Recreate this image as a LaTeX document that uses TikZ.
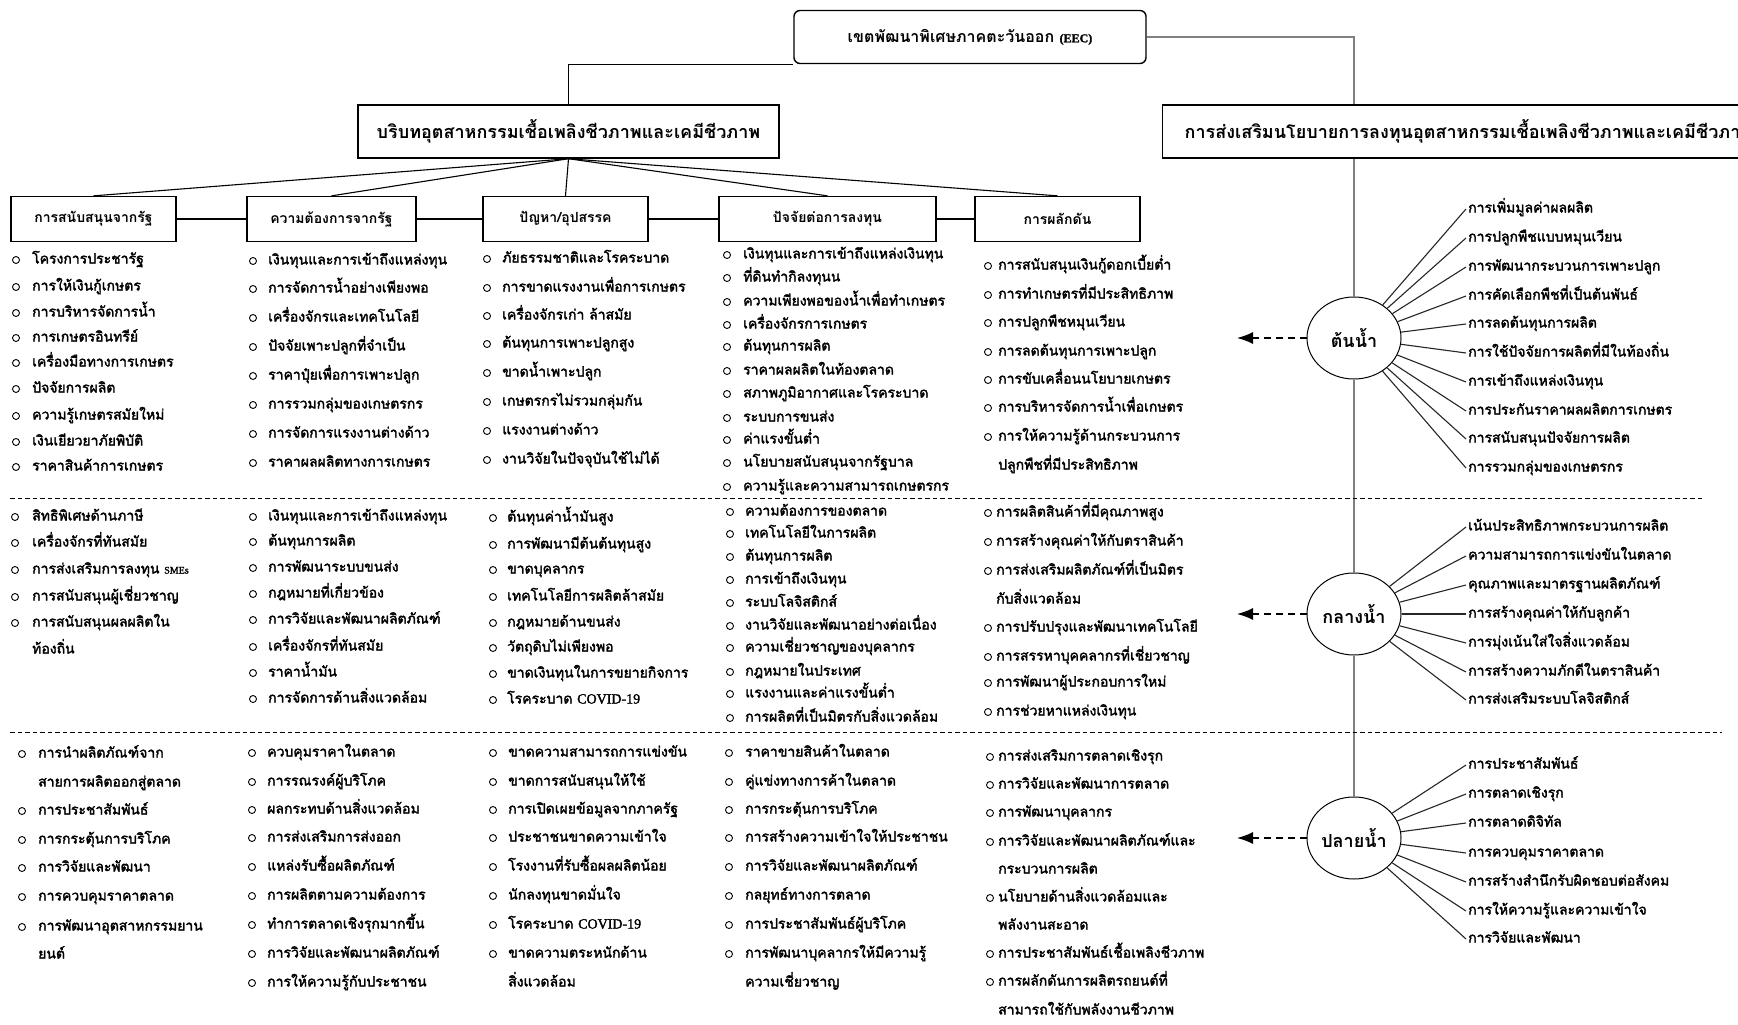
\documentclass[tikz,border=0pt]{standalone}
\usepackage{fontspec}
\newfontfamily\thai[Script=Thai]{Loma}
\newfontfamily\thaiheavy[Script=Thai,FakeBold=2.2]{Loma}
\newfontfamily\latn{Liberation Serif}
\newfontfamily\latnheavy[FakeBold=1.8]{Liberation Serif}
\usetikzlibrary{shapes.geometric,arrows.meta,calc}

\newcommand\bodyfont{\thaiheavy\fontsize{14}{16}\selectfont}

% one column of bulleted items: name prefix, bullet x, text x, list of y/text/bullet-flag
\newcommand\bulletcol[4]{%
  \foreach \yy/\txt/\hasb [count=\i] in {#4}{%
    \ifnum\hasb=1 \node[bul] (#1b\i) at (#2,\yy) {};\fi
    \node[itm] (#1t\i) at (#3,\yy) {\txt};
  }}

% items fanning out of a stage circle
\newcommand\fancol[3]{%
  \foreach \yy/\txt [count=\i] in {#3}{%
    \node[ritm] (#1t\i) at (1466,\yy) {\txt};
    \draw[fan] (#2) -- (#1t\i.west);
  }}

\begin{document}
\begin{tikzpicture}[x=1pt,y=-1pt,
  box/.style={draw, line width=1.4, inner sep=0, minimum height=53},
  hdr/.style={draw, line width=1.3, inner sep=0, minimum height=45,
    font=\thai\bfseries\fontsize{14}{16}\selectfont},
  bul/.style={circle, draw, line width=0.9, minimum size=7, inner sep=0},
  itm/.style={anchor=west, inner sep=0, text height=11, text depth=4, font=\bodyfont},
  ritm/.style={anchor=west, inner xsep=2, inner ysep=0, text height=11, text depth=4, font=\bodyfont},
  link/.style={line width=1.1},
  fan/.style={line width=1.1, black!85},
  spine/.style={line width=1.8, black!50},
  stage/.style={ellipse, draw, line width=1, minimum width=94, minimum height=82, inner sep=0,
    font=\thai\bfseries\fontsize{18}{20}\selectfont},
  darr/.style={line width=1.4, dash pattern=on 7pt off 5pt, -{Latex[length=16pt,width=12pt]}},
  sepline/.style={line width=1, dash pattern=on 4.5pt off 3pt}]

\useasboundingbox (0,0) rectangle (1738,1025);
\clip (0,0) rectangle (1738,1025);
\fill[white] (0,0) rectangle (1738,1025);

% top level
\node[box, rounded corners=6, minimum width=352, font=\thai\bfseries\fontsize{16}{18}\selectfont]
  (title) at (970,37) {เขตพัฒนาพิเศษภาคตะวันออก {\latnheavy\fontsize{12}{14}\selectfont(EEC)}};
\node[box, minimum width=421, font=\thai\bfseries\fontsize{18}{20}\selectfont]
  (ctx) at (568.5,131.5) {บริบทอุตสาหกรรมเชื้อเพลิงชีวภาพและเคมีชีวภาพ};
\node[box, anchor=west, inner xsep=22, font=\thai\bfseries\fontsize{18}{20}\selectfont]
  (pol) at (1162,131.5) {การส่งเสริมนโยบายการลงทุนอุตสาหกรรมเชื้อเพลิงชีวภาพและเคมีชีวภาพ};

% stage circles
\node[stage] (c1) at (1354,338) {ต้นน้ำ};
\node[stage] (c2) at (1354,614) {กลางน้ำ};
\node[stage] (c3) at (1354,838) {ปลายน้ำ};

\coordinate (ktop) at (c1.north |- pol.north);
\draw[link] (ctx.north) |- (title.south west);
\draw[spine] (title.east) -| (ktop);
\draw[spine] (c1.north |- pol.south) -- (c1.north);
\draw[spine] (c1.south) -- (c2.north);
\draw[spine] (c2.south) -- (c3.north);

% column headers
\node[hdr, minimum width=165] (h1) at (93.5,219) {การสนับสนุนจากรัฐ};
\node[hdr, minimum width=169] (h2) at (331.5,219) {ความต้องการจากรัฐ};
\node[hdr, minimum width=165] (h3) at (565.5,219) {ปัญหา/อุปสรรค};
\node[hdr, minimum width=217] (h4) at (827.5,219) {ปัจจัยต่อการลงทุน};
\node[hdr, minimum width=165] (h5) at (1057.5,219) {การผลักดัน};
\foreach \h in {h1,h2,h3,h4,h5} \draw[link] (ctx.south) -- (\h.north);
\draw[link] (h1.east) -- (h2.west);
\draw[link] (h2.east) -- (h3.west);
\draw[link] (h3.east) -- (h4.west);
\draw[link] (h4.east) -- (h5.west);

% row separators
\coordinate (s1l) at (10,498);  \coordinate (s1r) at (1705,498);
\coordinate (s2l) at (10,732);  \coordinate (s2r) at (1722,732);
\draw[sepline] (s1l) -- (s1r);
\draw[sepline] (s2l) -- (s2r);

% ---- row 1 : upstream
\bulletcol{ua}{16}{32}{260/โครงการประชารัฐ/1, 287/การให้เงินกู้เกษตร/1, 313/การบริหารจัดการน้ำ/1,
  338/การเกษตรอินทรีย์/1, 363/เครื่องมือทางการเกษตร/1, 389/ปัจจัยการผลิต/1,
  416/ความรู้เกษตรสมัยใหม่/1, 442/เงินเยียวยาภัยพิบัติ/1, 467/ราคาสินค้าการเกษตร/1}
\bulletcol{ub}{253}{268}{261/เงินทุนและการเข้าถึงแหล่งทุน/1, 289/การจัดการน้ำอย่างเพียงพอ/1,
  318/เครื่องจักรและเทคโนโลยี/1, 347/ปัจจัยเพาะปลูกที่จำเป็น/1, 376/ราคาปุ๋ยเพื่อการเพาะปลูก/1,
  405/การรวมกลุ่มของเกษตรกร/1, 434/การจัดการแรงงานต่างด้าว/1, 463/ราคาผลผลิตทางการเกษตร/1}
\bulletcol{uc}{487}{502}{259/ภัยธรรมชาติและโรคระบาด/1, 288/การขาดแรงงานเพื่อการเกษตร/1,
  316/เครื่องจักรเก่า ล้าสมัย/1, 344/ต้นทุนการเพาะปลูกสูง/1, 373/ขาดน้ำเพาะปลูก/1,
  402/เกษตรกรไม่รวมกลุ่มกัน/1, 431/แรงงานต่างด้าว/1, 460/งานวิจัยในปัจจุบันใช้ไม่ได้/1}
\bulletcol{ud}{727}{743}{255/เงินทุนและการเข้าถึงแหล่งเงินทุน/1, 278/ที่ดินทำกิลงทุนน/1,
  302/ความเพียงพอของน้ำเพื่อทำเกษตร/1, 325/เครื่องจักรการเกษตร/1, 347/ต้นทุนการผลิต/1,
  371/ราคาผลผลิตในท้องตลาด/1, 394/สภาพภูมิอากาศและโรคระบาด/1, 418/ระบบการขนส่ง/1,
  440/ค่าแรงขั้นต่ำ/1, 463/นโยบายสนับสนุนจากรัฐบาล/1, 487/ความรู้และความสามารถเกษตรกร/1}
\bulletcol{ue}{988}{998}{266/การสนับสนุนเงินกู้ดอกเบี้ยต่ำ/1, 295/การทำเกษตรที่มีประสิทธิภาพ/1,
  323/การปลูกพืชหมุนเวียน/1, 352/การลดต้นทุนการเพาะปลูก/1, 380/การขับเคลื่อนนโยบายเกษตร/1,
  408/การบริหารจัดการน้ำเพื่อเกษตร/1, 437/การให้ความรู้ด้านกระบวนการ/1, 466/ปลูกพืชที่มีประสิทธิภาพ/0}

% ---- row 2 : midstream
\bulletcol{ma}{15}{32}{517/สิทธิพิเศษด้านภาษี/1, 543/เครื่องจักรที่ทันสมัย/1,
  570/การส่งเสริมการลงทุน {\latnheavy\fontsize{10}{12}\selectfont SMEs}/1, 597/การสนับสนุนผู้เชี่ยวชาญ/1,
  623/การสนับสนุนผลผลิตใน/1, 650/ท้องถิ่น/0}
\bulletcol{mb}{253}{268}{517/เงินทุนและการเข้าถึงแหล่งทุน/1, 542/ต้นทุนการผลิต/1,
  568/การพัฒนาระบบขนส่ง/1, 594/กฎหมายที่เกี่ยวข้อง/1, 620/การวิจัยและพัฒนาผลิตภัณฑ์/1,
  647/เครื่องจักรที่ทันสมัย/1, 673/ราคาน้ำมัน/1, 699/การจัดการด้านสิ่งแวดล้อม/1}
\bulletcol{mc}{493}{507}{518/ต้นทุนค่าน้ำมันสูง/1, 545/การพัฒนามีต้นต้นทุนสูง/1, 570/ขาดบุคลากร/1,
  597/เทคโนโลยีการผลิตล้าสมัย/1, 623/กฎหมายด้านขนส่ง/1, 648/วัตถุดิบไม่เพียงพอ/1,
  674/ขาดเงินทุนในการขยายกิจการ/1, 700/โรคระบาด {\latnheavy COVID-19}/1}
\bulletcol{md}{730}{745}{512/ความต้องการของตลาด/1, 534/เทคโนโลยีในการผลิต/1, 557/ต้นทุนการผลิต/1,
  580/การเข้าถึงเงินทุน/1, 603/ระบบโลจิสติกส์/1, 626/งานวิจัยและพัฒนาอย่างต่อเนื่อง/1,
  648/ความเชี่ยวชาญของบุคลากร/1, 672/กฎหมายในประเทศ/1, 694/แรงงานและค่าแรงขั้นต่ำ/1,
  718/การผลิตที่เป็นมิตรกับสิ่งแวดล้อม/1}
\bulletcol{me}{988}{996}{513/การผลิตสินค้าที่มีคุณภาพสูง/1, 542/การสร้างคุณค่าให้กับตราสินค้า/1,
  571/การส่งเสริมผลิตภัณฑ์ที่เป็นมิตร/1, 600/กับสิ่งแวดล้อม/0, 628/การปรับปรุงและพัฒนาเทคโนโลยี/1,
  657/การสรรหาบุคคลากรที่เชี่ยวชาญ/1, 683/การพัฒนาผู้ประกอบการใหม่/1, 712/การช่วยหาแหล่งเงินทุน/1}

% ---- row 3 : downstream
\bulletcol{da}{22}{38}{754/การนำผลิตภัณฑ์จาก/1, 783/สายการผลิตออกสู่ตลาด/0, 811/การประชาสัมพันธ์/1,
  840/การกระตุ้นการบริโภค/1, 868/การวิจัยและพัฒนา/1, 897/การควบคุมราคาตลาด/1,
  927/การพัฒนาอุตสาหกรรมยาน/1, 955/ยนต์/0}
\bulletcol{db}{252}{267}{753/ควบคุมราคาในตลาด/1, 782/การรณรงค์ผู้บริโภค/1, 810/ผลกระทบด้านสิ่งแวดล้อม/1,
  838/การส่งเสริมการส่งออก/1, 867/แหล่งรับซื้อผลิตภัณฑ์/1, 896/การผลิตตามความต้องการ/1,
  925/ทำการตลาดเชิงรุกมากขึ้น/1, 954/การวิจัยและพัฒนาผลิตภัณฑ์/1, 983/การให้ความรู้กับประชาชน/1}
\bulletcol{dc}{493}{508}{753/ขาดความสามารถการแข่งขัน/1, 782/ขาดการสนับสนุนให้ใช้/1,
  810/การเปิดเผยข้อมูลจากภาครัฐ/1, 838/ประชาชนขาดความเข้าใจ/1, 867/โรงงานที่รับซื้อผลผลิตน้อย/1,
  896/นักลงทุนขาดมั่นใจ/1, 925/โรคระบาด {\latnheavy COVID-19}/1, 954/ขาดความตระหนักด้าน/1, 983/สิ่งแวดล้อม/0}
\bulletcol{dd}{729}{745}{753/ราคาขายสินค้าในตลาด/1, 782/คู่แข่งทางการค้าในตลาด/1, 810/การกระตุ้นการบริโภค/1,
  838/การสร้างความเข้าใจให้ประชาชน/1, 867/การวิจัยและพัฒนาผลิตภัณฑ์/1, 896/กลยุทธ์ทางการตลาด/1,
  925/การประชาสัมพันธ์ผู้บริโภค/1, 954/การพัฒนาบุคลากรให้มีความรู้/1, 983/ความเชี่ยวชาญ/0}
\bulletcol{de}{990}{998}{757/การส่งเสริมการตลาดเชิงรุก/1, 785/การวิจัยและพัฒนาการตลาด/1, 813/การพัฒนาบุคลากร/1,
  842/การวิจัยและพัฒนาผลิตภัณฑ์และ/1, 870/กระบวนการผลิต/0, 898/นโยบายด้านสิ่งแวดล้อมและ/1,
  926/พลังงานสะอาด/0, 954/การประชาสัมพันธ์เชื้อเพลิงชีวภาพ/1, 982/การผลักดันการผลิตรถยนต์ที่/1,
  1011/สามารถใช้กับพลังงานชีวภาพ/0}

% arrows from the stages back to the columns
\coordinate (a1) at (1237,338);
\coordinate (a2) at (1237,614);
\coordinate (a3) at (1237,838);
\draw[darr] (c1.west) -- (a1);
\draw[darr] (c2.west) -- (a2);
\draw[darr] (c3.west) -- (a3);

% fans of the stages
\fancol{ra}{c1}{209/การเพิ่มมูลค่าผลผลิต, 238/การปลูกพืชแบบหมุนเวียน, 267/การพัฒนากระบวนการเพาะปลูก,
  296/การคัดเลือกพืชที่เป็นต้นพันธ์, 324/การลดต้นทุนการผลิต, 353/การใช้ปัจจัยการผลิตที่มีในท้องถิ่น,
  382/การเข้าถึงแหล่งเงินทุน, 411/การประกันราคาผลผลิตการเกษตร, 439/การสนับสนุนปัจจัยการผลิต,
  468/การรวมกลุ่มของเกษตรกร}
\fancol{rb}{c2}{527/เน้นประสิทธิภาพกระบวนการผลิต, 556/ความสามารถการแข่งขันในตลาด,
  585/คุณภาพและมาตรฐานผลิตภัณฑ์, 614/การสร้างคุณค่าให้กับลูกค้า, 643/การมุ่งเน้นใส่ใจสิ่งแวดล้อม,
  672/การสร้างความภักดีในตราสินค้า, 700/การส่งเสริมระบบโลจิสติกส์}
\fancol{rc}{c3}{765/การประชาสัมพันธ์, 794/การตลาดเชิงรุก, 823/การตลาดดิจิทัล, 853/การควบคุมราคาตลาด,
  882/การสร้างสำนึกรับผิดชอบต่อสังคม, 911/การให้ความรู้และความเข้าใจ, 939/การวิจัยและพัฒนา}
\end{tikzpicture}
\end{document}
